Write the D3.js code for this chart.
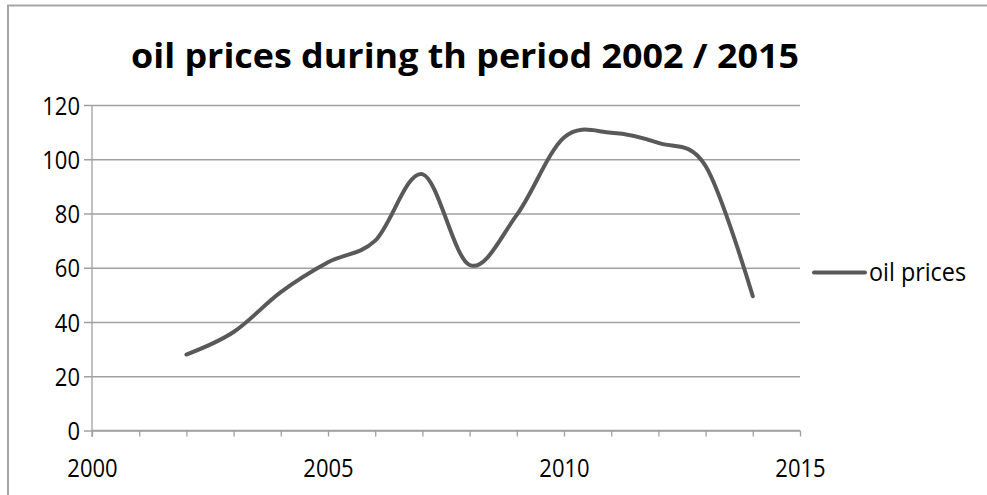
<!DOCTYPE html>
<html><head><meta charset="utf-8">
<script src="https://cdn.jsdelivr.net/npm/d3@7"></script>
<style>
html,body{margin:0;padding:0;background:#fff;}
svg{display:block;}
text{font-family:"Open Sans",sans-serif;fill:#000;}
</style></head>
<body>
<svg id="chart" width="987" height="495"></svg>
<script>
const title = "oil prices during th period 2002 / 2015";
const seriesName = "oil prices";
const years = [2002,2003,2004,2005,2006,2007,2008,2009,2010,2011,2012,2013,2014];
const prices = [28,36.3,51,62,70,94.5,61,79.5,108,109.8,106,97.5,49.5];
const yTicks = [0,20,40,60,80,100,120];
const xLabelTicks = [2000,2005,2010,2015];
const xMinorTicks = d3.range(2000,2016);

const svg = d3.select("#chart");
const squeeze = 0.88;
function squash(sel){
  sel.each(function(){
    const w = this.getComputedTextLength();
    if (w > 0) d3.select(this).attr("textLength", w*squeeze).attr("lengthAdjust","spacingAndGlyphs");
  });
}

// chart border
svg.append("path").attr("d","M8,500 V5.5 H990").attr("fill","none").attr("stroke","#a6a6a6").attr("stroke-width",2);

const x = d3.scaleLinear().domain([2000,2015]).range([92,800]);
const y = d3.scaleLinear().domain([0,120]).range([430.5,105]);

// gridlines + y ticks
const gy = svg.append("g").attr("transform","translate(92,0)")
  .call(d3.axisLeft(y).tickValues(yTicks).tickSize(-708).tickSizeOuter(0).tickPadding(12));
gy.select(".domain").remove();
gy.selectAll(".tick line").attr("stroke","#a0a0a0").attr("stroke-width",1.3).attr("x2",708).attr("x1",-8);
gy.selectAll(".tick text").attr("font-size",25).attr("x",-12).attr("dy","0.36em").call(squash);

// y axis line
svg.append("line").attr("x1",92).attr("x2",92).attr("y1",105).attr("y2",437)
  .attr("stroke","#a0a0a0").attr("stroke-width",1.3);

// x axis
const gx = svg.append("g").attr("transform","translate(0,430.5)")
  .call(d3.axisBottom(x).tickValues(xMinorTicks).tickSize(6).tickFormat(d => xLabelTicks.includes(d) ? d3.format("d")(d) : "").tickPadding(23));
gx.select(".domain").attr("stroke","#a0a0a0").attr("stroke-width",1.3).attr("d","M92,0H800");
gx.selectAll(".tick line").attr("stroke","#a0a0a0").attr("stroke-width",1.3);
gx.selectAll(".tick text").attr("font-size",25).attr("fill","#000").call(squash);

// line
const line = d3.line().x((d,i)=>x(years[i])).y(d=>y(d)).curve(d3.curveCatmullRom.alpha(0));
svg.append("path").datum(prices).attr("d",line).attr("fill","none")
  .attr("stroke","#595959").attr("stroke-width",4).attr("stroke-linecap","round").attr("stroke-linejoin","round");

// title
svg.append("text").attr("x",465).attr("y",68).attr("text-anchor","middle")
  .attr("font-size",34).attr("font-weight","bold").text(title)
  .attr("textLength",668).attr("lengthAdjust","spacingAndGlyphs");

// legend
svg.append("line").attr("x1",814).attr("x2",865).attr("y1",272.5).attr("y2",272.5)
  .attr("stroke","#595959").attr("stroke-width",4).attr("stroke-linecap","round");
svg.append("text").attr("x",869).attr("y",281).attr("font-size",25).text(seriesName)
  .attr("textLength",97).attr("lengthAdjust","spacingAndGlyphs");
</script>
</body></html>
